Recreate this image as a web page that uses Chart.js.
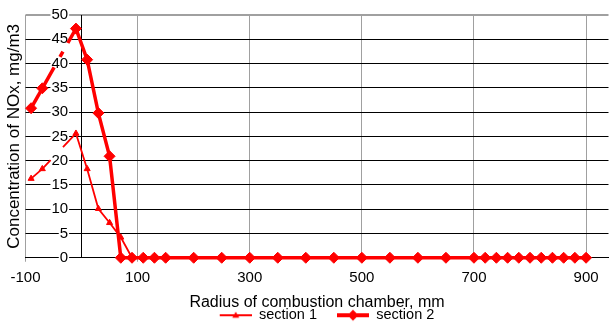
<!DOCTYPE html>
<html>
<head>
<meta charset="utf-8">
<script src="https://cdn.jsdelivr.net/npm/chart.js@4.4.1/dist/chart.umd.min.js"></script>
<style>
  body { margin: 0; background: #fff; }
</style>
</head>
<body>
<canvas id="noxChart" width="615" height="322"></canvas>
<script>
// radius positions, mm
const radius = [-90, -70, -10, 10, 30, 50, 70, 90, 110, 130, 150, 200, 250, 300, 350, 400, 450,
  500, 550, 600, 650, 700, 720, 740, 760, 780, 800, 820, 840, 860, 880, 900];

// NOx concentration, mg/m3
const section1 = [16.3, 18.3, 25.6, 18.3, 10.1, 7.2, 4.2, 0, 0, 0, 0, 0, 0, 0, 0, 0, 0,
  0, 0, 0, 0, 0, 0, 0, 0, 0, 0, 0, 0, 0, 0, 0];
const section2 = [30.8, 34.9, 47.2, 40.8, 29.8, 20.9, 0, 0, 0, 0, 0, 0, 0, 0, 0, 0, 0,
  0, 0, 0, 0, 0, 0, 0, 0, 0, 0, 0, 0, 0, 0, 0];

const xTicks = [-100, 100, 300, 500, 700, 900];

const red = '#ff0000';
const font = '"Liberation Sans", Arial, sans-serif';

function toPoints(ys) {
  return radius.map((x, i) => ({ x: x, y: ys[i] }));
}

// legend sample: short line with the marker in the middle
function legendIcon(lineW, kind, r) {
  const c = document.createElement('canvas');
  c.width = 52; c.height = 14;
  const g = c.getContext('2d');
  g.strokeStyle = red;
  g.fillStyle = red;
  g.lineWidth = lineW;
  g.beginPath();
  g.moveTo(20, 7);
  g.lineTo(52, 7);
  g.stroke();
  const cx = 36, cy = 7;
  g.beginPath();
  if (kind === 'tri') {
    g.moveTo(cx, cy - r);
    g.lineTo(cx + r, cy + r * 0.7);
    g.lineTo(cx - r, cy + r * 0.7);
  } else {
    g.moveTo(cx, cy - r);
    g.lineTo(cx + r, cy);
    g.lineTo(cx, cy + r);
    g.lineTo(cx - r, cy);
  }
  g.closePath();
  g.fill();
  return c;
}
const icons = [legendIcon(2, 'tri', 3.5), legendIcon(4, 'dia', 5.5)];

const ctx = document.getElementById('noxChart').getContext('2d');
const noxChart = new Chart(ctx, {
  type: 'line',
  data: {
    datasets: [{
      label: 'section 1',
      data: toPoints(section1),
      borderColor: red,
      backgroundColor: red,
      borderWidth: 1.8,
      pointStyle: 'triangle',
      pointRadius: 3.5,
      pointBorderWidth: 1,
      tension: 0,
      clip: false,
      segment: {
        borderDash: c => c.p0DataIndex === 1 ? [12, 18, 40] : undefined
      }
    }, {
      label: 'section 2',
      data: toPoints(section2),
      borderColor: red,
      backgroundColor: red,
      borderWidth: 3.5,
      pointStyle: 'rectRot',
      pointRadius: 5.5,
      pointBorderWidth: 1,
      tension: 0,
      clip: false,
      segment: {
        borderDash: c => c.p0DataIndex === 1 ? [24, 12, 6, 10, 40] : undefined
      }
    }]
  },
  options: {
    responsive: false,
    animation: false,
    layout: { padding: { top: 15, right: 0, left: 0, bottom: 0 } },
    scales: {
      x: {
        type: 'linear',
        min: -100,
        max: 940,
        afterBuildTicks: s => { s.ticks = xTicks.map(v => ({ value: v })); },
        afterFit: s => { s.height = 50.25; },
        grid: { color: '#a0a0a0', lineWidth: 1, tickLength: 4 },
        border: { color: '#000', width: 1 },
        ticks: { color: '#000', font: { family: font, size: 15, lineHeight: 1 }, padding: 9, maxRotation: 0 },
        title: {
          display: true,
          text: 'Radius of combustion chamber, mm',
          color: '#000',
          font: { family: font, size: 16, lineHeight: 1 },
          padding: { top: 0, bottom: -2.25 }
        }
      },
      // tick labels and horizontal grid, labels sit just left of x = 0
      y: {
        type: 'linear',
        position: { x: -24 },
        min: 0,
        max: 50,
        grid: {
          color: c => c.tick && c.tick.value === 50 ? '#a0a0a0' : '#000',
          lineWidth: c => c.tick && c.tick.value === 50 ? 2 : 1,
          drawTicks: false
        },
        border: { display: false },
        ticks: {
          stepSize: 5,
          color: '#000',
          font: { family: font, size: 15 },
          padding: 0,
          showLabelBackdrop: true,
          backdropColor: '#fff',
          backdropPadding: { x: 1, y: 0 }
        }
      },
      // the black axis line at x = 0
      y0: {
        type: 'linear',
        position: { x: 0 },
        min: 0,
        max: 50,
        ticks: { display: false },
        grid: { display: false, drawTicks: false },
        border: { color: '#000', width: 1 }
      },
      yt: {
        type: 'linear',
        position: 'left',
        min: 0,
        max: 50,
        ticks: { display: false },
        grid: { display: false, drawTicks: false },
        border: { display: false },
        title: {
          display: true,
          text: 'Concentration of NOx, mg/m3',
          color: '#000',
          font: { family: font, size: 17, lineHeight: 1 },
          padding: { top: 6, bottom: 0 }
        },
        afterFit: s => { s.width = 25.5; }
      }
    },
    plugins: {
      tooltip: { enabled: false },
      legend: {
        position: 'bottom',
        fullSize: false,
        maxHeight: 14,
        labels: {
          color: '#000',
          font: { family: font, size: 14.5 },
          padding: 0,
          usePointStyle: true,
          pointStyleWidth: 52,
          generateLabels: chart => {
            const items = Chart.defaults.plugins.legend.labels.generateLabels(chart);
            items.forEach((it, i) => { it.pointStyle = icons[i]; });
            return items;
          }
        }
      }
    }
  }
});
</script>
</body>
</html>
